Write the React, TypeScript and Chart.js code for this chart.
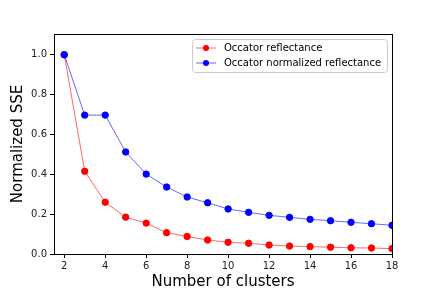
import React, { useEffect, useRef } from "react";
import { Chart, registerables } from "chart.js";

Chart.register(...registerables);

const clusters = [2, 3, 4, 5, 6, 7, 8, 9, 10, 11, 12, 13, 14, 15, 16, 17, 18];
const reflectance = [1.0, 0.415, 0.26, 0.185, 0.155, 0.107, 0.088, 0.07, 0.059, 0.054, 0.045, 0.04, 0.037, 0.034, 0.031, 0.03, 0.027];
const normalizedReflectance = [1.0, 0.697, 0.697, 0.512, 0.401, 0.336, 0.286, 0.257, 0.226, 0.209, 0.194, 0.184, 0.174, 0.167, 0.159, 0.152, 0.144];
const xTicks = [2, 4, 6, 8, 10, 12, 14, 16, 18];
const yTicks = [0, 0.2, 0.4, 0.6, 0.8, 1.0];
const seriesNames = ["Occator reflectance", "Occator normalized reflectance"];
const FONT = "'DejaVu Sans', sans-serif";

const framePlugin = {
  id: "frame",
  afterDatasetsDraw(chart: any) {
    const { ctx, chartArea } = chart;
    ctx.save();
    ctx.strokeStyle = "#000";
    ctx.lineWidth = 1;
    ctx.strokeRect(Math.round(chartArea.left) + 0.5, Math.round(chartArea.top) + 0.5,
      Math.round(chartArea.right - chartArea.left), Math.round(chartArea.bottom - chartArea.top));
    ctx.restore();
  },
  afterDraw(chart: any) {
    const { ctx } = chart;
    const x0 = 192, y0 = 39, w = 195, h = 33;
    ctx.save();
    ctx.fillStyle = "rgba(255,255,255,0.8)";
    ctx.strokeStyle = "#cccccc";
    ctx.lineWidth = 1;
    ctx.beginPath();
    (ctx as any).roundRect(x0 + 0.5, y0 + 0.5, w, h, 3);
    ctx.fill();
    ctx.stroke();
    const colors = [["rgba(255,0,0,0.6)", "#ff0000"], ["rgba(0,0,255,0.6)", "#0000ff"]];
    const rows = [48, 63];
    ctx.font = `10px ${FONT}`;
    ctx.textBaseline = "middle";
    for (let i = 0; i < 2; i++) {
      const y = rows[i];
      ctx.strokeStyle = colors[i][0];
      ctx.lineWidth = 1;
      ctx.beginPath();
      ctx.moveTo(196, y);
      ctx.lineTo(216, y);
      ctx.stroke();
      ctx.fillStyle = colors[i][1];
      ctx.beginPath();
      ctx.arc(206, y, 3, 0, Math.PI * 2);
      ctx.fill();
      ctx.fillStyle = "#000";
      ctx.fillText(seriesNames[i], 224, y);
    }
    ctx.restore();
  },
};

export default function App() {
  const ref = useRef<HTMLCanvasElement>(null);
  useEffect(() => {
    const chart = new Chart(ref.current!, {
      type: "line",
      data: {
        labels: clusters,
        datasets: [
          {
            label: seriesNames[0],
            data: clusters.map((c, i) => ({ x: c, y: reflectance[i] })),
            borderColor: "rgba(255,0,0,0.6)",
            backgroundColor: "#ff0000",
            pointBackgroundColor: "#ff0000",
            pointBorderColor: "#ff0000",
            pointRadius: 3.2,
            borderWidth: 1,
            tension: 0,
            order: 1,
          },
          {
            label: seriesNames[1],
            data: clusters.map((c, i) => ({ x: c, y: normalizedReflectance[i] })),
            borderColor: "rgba(0,0,255,0.6)",
            backgroundColor: "#0000ff",
            pointBackgroundColor: "#0000ff",
            pointBorderColor: "#0000ff",
            pointRadius: 3.2,
            borderWidth: 1,
            tension: 0,
            order: 0,
          },
        ],
      },
      options: {
        animation: false,
        responsive: false,
        maintainAspectRatio: false,
        layout: { padding: { left: 0, right: 44, top: 34, bottom: 0 } },
        plugins: { legend: { display: false }, tooltip: { enabled: false } },
        scales: {
          x: {
            type: "linear",
            min: 1.5,
            max: 18,
            afterBuildTicks: (s: any) => { s.ticks = xTicks.map((v) => ({ value: v })); },
            afterFit: (s: any) => { s.height = 37; },
            grid: { display: true, drawOnChartArea: false, drawTicks: true, tickLength: 4, color: "#000" },
            border: { display: true, color: "#000", width: 1 },
            ticks: { color: "#222", font: { family: FONT, size: 10 }, padding: 2, maxRotation: 0, autoSkip: false },
            title: { display: true, text: "Number of clusters", color: "#000", font: { family: FONT, size: 15 }, padding: { top: 1, bottom: 0 } },
          },
          y: {
            type: "linear",
            min: 0,
            max: 1.104,
            afterBuildTicks: (s: any) => { s.ticks = yTicks.map((v) => ({ value: v })); },
            afterFit: (s: any) => { s.width = 54; },
            grid: { display: true, drawOnChartArea: false, drawTicks: true, tickLength: 4, color: "#000" },
            border: { display: true, color: "#000", width: 1 },
            ticks: { color: "#222", font: { family: FONT, size: 10 }, padding: 3, callback: (v: any) => Number(v).toFixed(1) },
            title: { display: true, text: "Normalized SSE", color: "#000", font: { family: FONT, size: 15 }, padding: { top: 9, bottom: 4 } },
          },
        },
      },
      plugins: [framePlugin],
    } as any);
    return () => chart.destroy();
  }, []);
  return (
    <div style={{ position: "fixed", left: 0, top: 0, width: 436, height: 291, background: "#fff" }}>
      <canvas ref={ref} width={436} height={291} style={{ width: 436, height: 291 }} />
    </div>
  );
}
